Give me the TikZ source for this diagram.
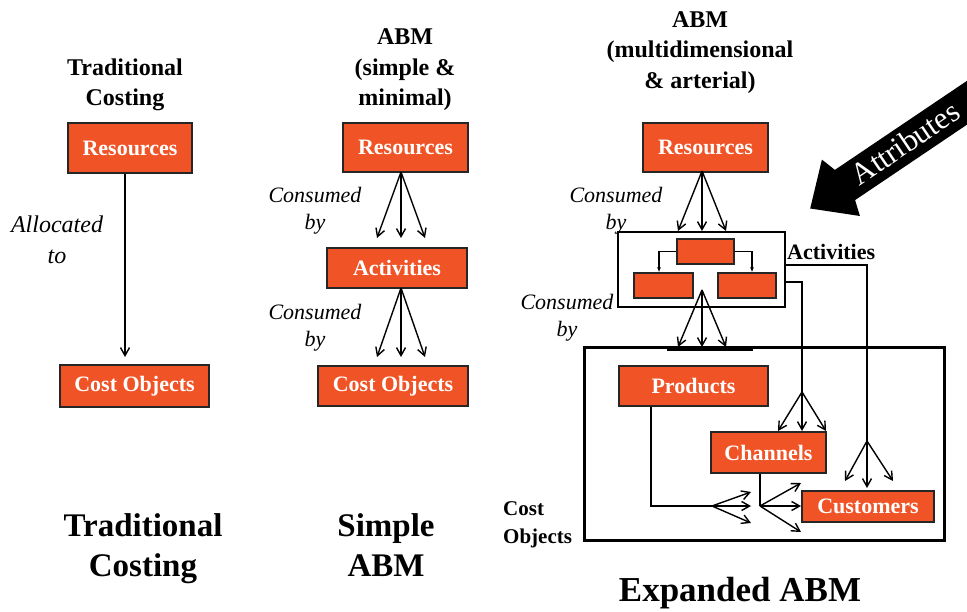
\documentclass[tikz,border=0pt]{standalone}
\usepackage{fontspec}
\setmainfont{Liberation Serif}
\usetikzlibrary{arrows.meta,calc}
\definecolor{boxor}{RGB}{240,84,38}
\tikzset{
  obox/.style={draw=black!85, line width=1.3pt, fill=boxor, text=white, inner sep=0pt,
    font=\fontsize{22}{26}\selectfont\bfseries},
  sbox/.style={draw=black!85, line width=1.3pt, fill=boxor, inner sep=0pt},
  frm/.style={draw=black, line width=1.6pt},
  bigfrm/.style={draw=black, line width=3pt},
  ttl/.style={align=center, inner sep=0pt, font=\fontsize{24}{30.5}\selectfont\bfseries},
  bttl/.style={align=center, inner sep=0pt, font=\fontsize{33}{40}\selectfont\bfseries},
  itl/.style={align=center, inner sep=0pt, font=\fontsize{22}{27}\selectfont\itshape},
  lbl/.style={align=left, inner sep=0pt, font=\fontsize{21}{28}\selectfont\bfseries},
  arr/.style={line width=1.4pt, -{Straight Barb[length=8pt,width=9pt]}},
  ln/.style={line width=1.4pt},
  sarr/.style={line width=1.2pt, -{Latex[length=5pt,width=4pt]}}
}
\begin{document}
\begin{tikzpicture}[x=1pt,y=-1pt]
\path[use as bounding box, clip] (0,0) rectangle (967,612);
\fill[white] (0,0) rectangle (967,612);

% ---------------- Traditional costing ----------------
\node[ttl] (t1) at (125,85) {Traditional\\Costing};
\node[obox, minimum width=124pt, minimum height=50pt] (lres) at (130,148) {Resources};
\node[obox, minimum width=149pt, minimum height=42pt] (lco) at (134.5,386) {Cost Objects};
\coordinate (la) at (125,357);
\draw[arr] (lres.south -| la) -- (la);
\node[itl, font=\fontsize{24}{31}\selectfont\itshape] (alloc) at (57,240) {Allocated\\to};
\node[bttl] (b1) at (143,549) {Traditional\\Costing};

% ---------------- Simple ABM ----------------
\node[ttl] (t2) at (405,70) {ABM\\(simple \&\\minimal)};
\node[obox, minimum width=125pt, minimum height=49pt] (mres) at (405.5,147.5) {Resources};
\node[obox, minimum width=140pt, minimum height=40pt] (mact) at (397,268) {Activities};
\node[obox, minimum width=150pt, minimum height=40pt] (mco) at (393,386) {Cost Objects};
\coordinate (mo1) at (401,172);
\coordinate (ma1) at (377,238); \coordinate (ma2) at (401,238); \coordinate (ma3) at (425,238);
\draw[arr] (mo1) -- (ma1); \draw[arr] (mo1) -- (ma2); \draw[arr] (mo1) -- (ma3);
\coordinate (mo2) at (401,288);
\coordinate (mb1) at (377,357); \coordinate (mb2) at (401,357); \coordinate (mb3) at (425,357);
\draw[arr] (mo2) -- (mb1); \draw[arr] (mo2) -- (mb2); \draw[arr] (mo2) -- (mb3);
\node[itl] (mc1) at (315,211) {Consumed\\by};
\node[itl] (mc2) at (315,328) {Consumed\\by};
\node[bttl] (b2) at (386,545) {Simple\\ABM};

% ---------------- Expanded ABM ----------------
\node[ttl] (t3) at (700,52.5) {ABM\\(multidimensional\\\& arterial)};
\node[obox, minimum width=125pt, minimum height=49pt] (rres) at (705.5,147.5) {Resources};

% activities frame
\node[frm, fill=white, minimum width=167pt, minimum height=75pt, inner sep=0pt] (afr) at (701.5,269.5) {};
\node[sbox, minimum width=57pt, minimum height=25pt] (atop) at (705.5,251.5) {};
\node[sbox, minimum width=59pt, minimum height=25pt] (aleft) at (663.5,285.5) {};
\node[sbox, minimum width=58pt, minimum height=25pt] (aright) at (747,285.5) {};
\draw[sarr] (atop.west) -| (aleft.north -| 659,0);
\draw[sarr] (atop.east) -| (aright.north -| 752,0);
\node[lbl, anchor=west, font=\fontsize{22}{28}\selectfont\bfseries] (actl) at (787,252) {Activities};

% resources -> activities fan
\coordinate (ro1) at (702,171);
\coordinate (ra1) at (678,231); \coordinate (ra2) at (702,231); \coordinate (ra3) at (726,231);
\draw[arr] (ro1) -- (ra1); \draw[arr] (ro1) -- (ra2); \draw[arr] (ro1) -- (ra3);
\node[itl] (rc1) at (616,211) {Consumed\\by};
\node[itl] (rc2) at (567,318) {Consumed\\by};

% cost objects frame
\node[bigfrm, minimum width=360pt, minimum height=192pt, inner sep=0pt] (cfr) at (764,444) {};
\draw[line width=4.5pt] (667,349) -- (753,349);
\coordinate (ro2) at (702,290);
\coordinate (rb1) at (678,347); \coordinate (rb2) at (702,347); \coordinate (rb3) at (726,347);
\draw[arr] (ro2) -- (rb1); \draw[arr] (ro2) -- (rb2); \draw[arr] (ro2) -- (rb3);
\node[lbl, anchor=west] (col) at (503,525) {Cost\\Objects};

\node[obox, minimum width=149pt, minimum height=40pt] (prod) at (693.5,386) {Products};
\node[obox, minimum width=115pt, minimum height=41pt] (chan) at (768.5,452.5) {Channels};
\node[obox, minimum width=132pt, minimum height=31pt] (cust) at (868,506.5) {Customers};

% activities -> customers
\coordinate (cuo) at (867,441);
\draw[ln] (afr.east |- 0,265) -| (cuo);
\coordinate (cu1) at (845,481); \coordinate (cu2) at (867,488); \coordinate (cu3) at (893,481);
\draw[arr] (cuo) -- (cu1); \draw[arr] (cuo) -- (cu2); \draw[arr] (cuo) -- (cu3);
% activities -> channels
\coordinate (cho) at (802,392);
\draw[ln] (afr.east |- 0,282) -| (cho);
\coordinate (ch1) at (778,431); \coordinate (ch2) at (802,431); \coordinate (ch3) at (826,431);
\draw[arr] (cho) -- (ch1); \draw[arr] (cho) -- (ch2); \draw[arr] (cho) -- (ch3);
% products fan
\coordinate (po) at (712,506);
\draw[ln] (prod.south -| 651,0) |- (po);
\coordinate (p1) at (751,492); \coordinate (p2) at (751,506); \coordinate (p3) at (751,523);
\draw[arr] (po) -- (p1); \draw[arr] (po) -- (p2); \draw[arr] (po) -- (p3);
% channels fan
\coordinate (co) at (760,506);
\draw[ln] (chan.south -| co) -- (co);
\coordinate (c1) at (801,483); \coordinate (c2) at (801,506); \coordinate (c3) at (801,532);
\draw[arr] (co) -- (c1); \draw[arr] (co) -- (c2); \draw[arr] (co) -- (c3);

\node[bttl, font=\fontsize{35}{40}\selectfont\bfseries] (b3) at (740,593) {Expanded ABM};

% Attributes block arrow
\fill[black] (810.2,208.5) -- (821.9,159.6) -- (834.9,169.9) -- (1000.7,58.1)
  -- (1020.9,88.3) -- (855.1,200.1) -- (859.9,216) -- cycle;
\node[text=white, inner sep=0pt, rotate=34, font=\fontsize{31}{31}\selectfont] (attr) at (905,143) {Attributes};
\end{tikzpicture}
\end{document}
